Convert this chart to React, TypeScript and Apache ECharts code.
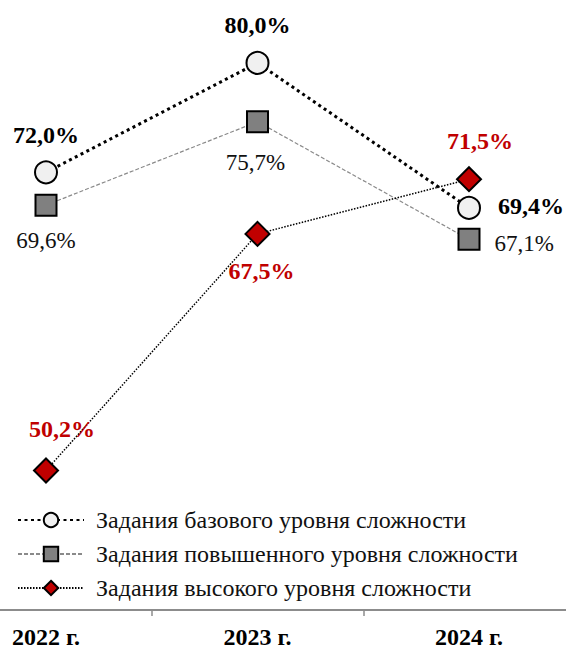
import React, { useEffect, useRef } from "react";
import * as echarts from "echarts";

const categories = ["2022 г.", "2023 г.", "2024 г."];
const seriesNames = [
  "Задания базового уровня сложности",
  "Задания повышенного уровня сложности",
  "Задания высокого уровня сложности",
];
const basicValues = [72.0, 80.0, 69.4];
const advancedValues = [69.6, 75.7, 67.1];
const highValues = [50.2, 67.5, 71.5];

const FONT = "'Times New Roman', 'Liberation Serif', serif";

const fmt = (v: number) => v.toFixed(1).replace(".", ",") + "%";

type LabelStyle = { position: string; distance: number; offset: [number, number] };

const basicLabelStyles: LabelStyle[] = [
  { position: "top", distance: 13, offset: [0, 0] },
  { position: "top", distance: 14, offset: [0, 0] },
  { position: "right", distance: 17, offset: [0, -2] },
];
const advancedLabelStyles: LabelStyle[] = [
  { position: "bottom", distance: 12, offset: [0, 0] },
  { position: "bottom", distance: 18, offset: [-2, 0] },
  { position: "right", distance: 14, offset: [0, 4] },
];
const highLabelStyles: LabelStyle[] = [
  { position: "top", distance: 17, offset: [16, 0] },
  { position: "bottom", distance: 12, offset: [4, 0] },
  { position: "top", distance: 13, offset: [11, 0] },
];

function buildData(values: number[], styles: LabelStyle[]) {
  return values.map((v, i) => ({
    value: v,
    label: {
      position: styles[i].position,
      distance: styles[i].distance,
      offset: styles[i].offset,
    },
  }));
}

export default function App() {
  const ref = useRef<HTMLDivElement>(null);
  useEffect(() => {
    if (!ref.current) return;
    const chart = echarts.init(ref.current, null, { renderer: "svg" });
    const option: any = {
      animation: false,
      backgroundColor: "#ffffff",
      textStyle: { fontFamily: FONT },
      grid: {
        left: -59.75,
        right: -8.75,
        top: 8.24,
        bottom: 41,
        containLabel: false,
        outerBoundsMode: "none",
      },
      xAxis: {
        type: "category",
        data: categories,
        boundaryGap: true,
        axisLine: { show: true, lineStyle: { color: "#8c8c8c", width: 2 } },
        axisTick: { show: true, length: 6, lineStyle: { color: "#8c8c8c", width: 1.5 } },
        axisLabel: {
          margin: 15,
          fontFamily: FONT,
          fontSize: 24,
          fontWeight: "bold",
          color: "#000",
        },
        splitLine: { show: false },
      },
      yAxis: {
        type: "value",
        min: 40,
        max: 84,
        show: false,
        splitLine: { show: false },
      },
      legend: {
        orient: "vertical",
        left: 12,
        top: 503,
        itemWidth: 66,
        itemHeight: 18,
        itemGap: 10,
        selectedMode: false,
        textStyle: {
          fontFamily: FONT,
          fontSize: 24,
          lineHeight: 24,
          color: "#111",
          padding: [0, 0, 0, 7],
        },
        data: seriesNames,
      },
      series: [
        {
          name: seriesNames[0],
          type: "line",
          data: buildData(basicValues, basicLabelStyles),
          symbol: "circle",
          symbolSize: 22,
          z: 3,
          lineStyle: { color: "#000", width: 3, type: [3, 3.5] },
          itemStyle: { color: "#f0f0f0", borderColor: "#000", borderWidth: 2 },
          label: {
            show: true,
            formatter: (p: any) => fmt(p.value),
            fontFamily: FONT,
            fontSize: 24,
            fontWeight: "bold",
            color: "#000",
          },
        },
        {
          name: seriesNames[1],
          type: "line",
          data: buildData(advancedValues, advancedLabelStyles),
          symbol: "rect",
          symbolSize: 21,
          z: 2,
          lineStyle: { color: "#8a8a8a", width: 1.2, type: [4, 2] },
          itemStyle: { color: "#808080", borderColor: "#000", borderWidth: 2 },
          label: {
            show: true,
            formatter: (p: any) => fmt(p.value),
            fontFamily: FONT,
            fontSize: 23,
            color: "#111",
          },
        },
        {
          name: seriesNames[2],
          type: "line",
          data: buildData(highValues, highLabelStyles),
          symbol: "diamond",
          symbolSize: 24,
          z: 4,
          lineStyle: { color: "#000", width: 1.5, type: [1.5, 1.5] },
          itemStyle: { color: "#c00000", borderColor: "#000", borderWidth: 2 },
          label: {
            show: true,
            formatter: (p: any) => fmt(p.value),
            fontFamily: FONT,
            fontSize: 24,
            fontWeight: "bold",
            color: "#c00000",
          },
        },
      ],
    };
    chart.setOption(option);
    return () => chart.dispose();
  }, []);
  return (
    <div
      ref={ref}
      style={{ position: "fixed", left: 0, top: 0, width: 566, height: 651, background: "#fff" }}
    />
  );
}
